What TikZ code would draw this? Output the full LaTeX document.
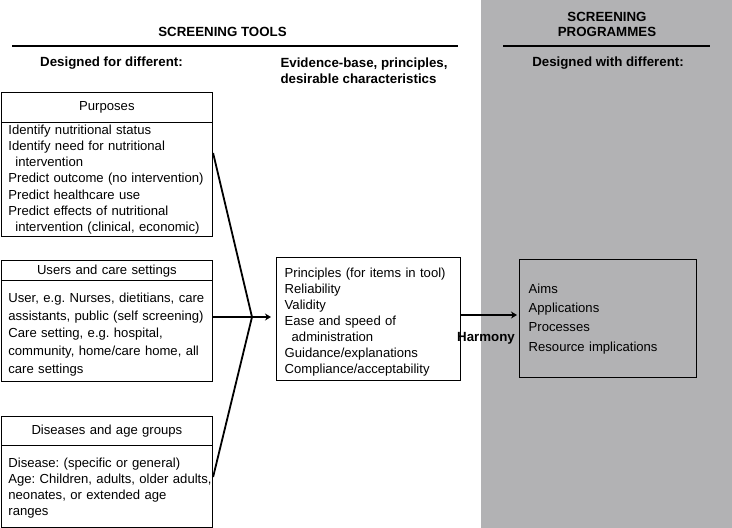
\documentclass[tikz,border=0pt]{standalone}
\usepackage{fontspec}
\setmainfont{Liberation Sans}
\usetikzlibrary{arrows.meta,calc}
\definecolor{panel}{RGB}{178,178,180}
\newcommand{\oneln}[1]{\mbox{#1}}
\newcommand{\topstrut}[1]{\rule{0pt}{#1}}
\frenchspacing
\begin{document}
\begin{tikzpicture}[x=1pt,y=-1pt,
  every node/.style={font=\fontsize{13.1}{16.2}\selectfont},
  head/.style={font=\bfseries\fontsize{13.3}{15.5}\selectfont},
  box/.style={draw, line width=1.4pt, anchor=north west, inner xsep=7pt, inner ysep=0pt, align=left},
  rule/.style={line width=1.4pt},
  conn/.style={line width=1.8pt},
  arr/.style={line width=2.3pt, -{Stealth[length=6pt,width=7pt]}}
]
\useasboundingbox (0,0) rectangle (732,528);
\fill[panel] (481,0) rectangle (732,528);

% headings
\node[head] (t1) at (222.5,32) {SCREENING TOOLS};
\coordinate (r1a) at (12,46); \coordinate (r1b) at (458,46);
\draw[rule] (r1a) -- (r1b);
\node[head] (t2) at (111.5,63) {Designed for different:};
\node[head, anchor=west, align=left] (t3) at (277,70.5) {Evidence-base, principles,\\desirable characteristics};
\node[head, align=center] (t4) at (607,24.5) {SCREENING\\PROGRAMMES};
\coordinate (r2a) at (503,46); \coordinate (r2b) at (710,46);
\draw[rule] (r2a) -- (r2b);
\node[head] (t5) at (608,63) {Designed with different:};

% Purposes
\node[box, align=center, text width=197pt, minimum height=30pt] (purpH) at (0.7,92) {Purposes};
\node[box, text width=197pt, minimum height=113.5pt] (purpB) at (0.7,122) {\oneln{Identify nutritional status}\\\oneln{Identify need for nutritional}\\\oneln{\hspace*{7pt}intervention}\\\oneln{Predict outcome (no intervention)}\\\oneln{Predict healthcare use}\\\oneln{Predict effects of nutritional}\\\oneln{\hspace*{7pt}intervention (clinical, economic)}};

% Users
\node[box, align=center, text width=197pt, minimum height=20pt] (userH) at (0.7,260) {Users and care settings};
\node[box, text width=197pt, minimum height=101pt, font=\fontsize{13.1}{17.7}\selectfont] (userB) at (0.7,280) {\topstrut{16pt}\oneln{User, e.g. Nurses, dietitians, care}\\\oneln{assistants, public (self screening)}\\\oneln{Care setting, e.g. hospital,}\\\oneln{community, home/care home, all}\\\oneln{care settings}};

% Diseases
\node[box, align=center, text width=197pt, minimum height=29pt] (disH) at (0.7,416) {Diseases and age groups};
\node[box, text width=197pt, minimum height=82pt, font=\fontsize{13.1}{16}\selectfont] (disB) at (0.7,445) {\topstrut{12.5pt}\oneln{Disease: (specific or general)}\\\oneln{Age: Children, adults, older adults,}\\\oneln{neonates, or extended age}\\\oneln{ranges}};

% Centre box
\node[box, inner xsep=8pt, text width=168pt, minimum height=123pt, font=\fontsize{13.1}{16}\selectfont] (cbox) at (276,257) {\topstrut{16pt}\oneln{Principles (for items in tool)}\\Reliability\\Validity\\\oneln{Ease and speed of}\\\oneln{\hspace*{7pt}administration}\\\oneln{Guidance/explanations}\\\oneln{Compliance/acceptability}};

% Aims box
\node[box, inner xsep=9pt, text width=159pt, minimum height=118pt, font=\fontsize{13.1}{19.3}\selectfont] (aims) at (519,259) {Aims\\Applications\\Processes\\\oneln{Resource implications}};

% connectors
\coordinate (conv) at (252,317);
\coordinate (pstart) at (0,153);
\coordinate (dstart) at (0,477);
\draw[conn] (purpB.east |- pstart) -- (conv) -- (disB.east |- dstart);
\draw[conn] (userB.east |- conv) -- (conv);
\draw[arr, shorten >=5pt] (conv) -- (cbox.west |- conv);
\draw[arr, shorten >=2pt] (cbox.east |- 0,315) -- (aims.west |- 0,315);
\node[head] (harm) at (486,338) {Harmony};
\end{tikzpicture}
\end{document}
